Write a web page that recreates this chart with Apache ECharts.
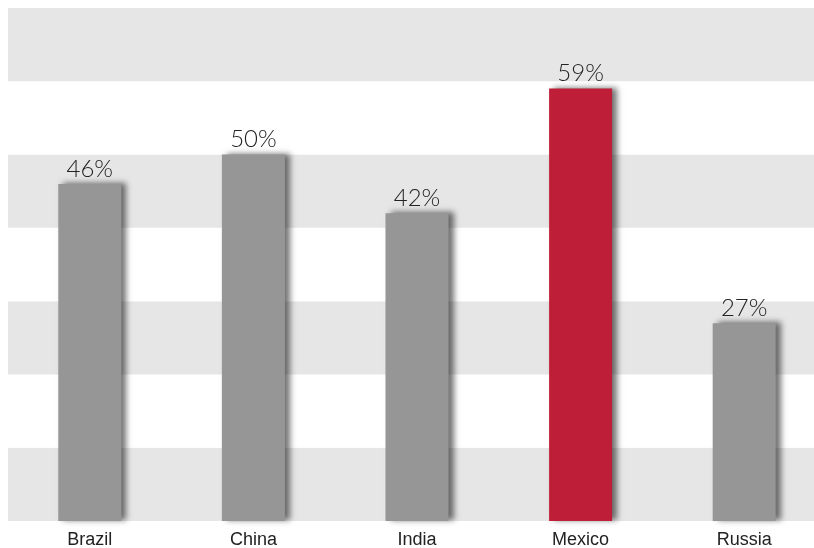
<!DOCTYPE html>
<html>
<head>
<meta charset="utf-8">
<script src="https://cdn.jsdelivr.net/npm/echarts@6/dist/echarts.min.js"></script>
<style>
  html, body { margin: 0; padding: 0; background: #fff; }
  #chart { width: 814px; height: 548px; }
</style>
</head>
<body>
<div id="chart"></div>
<script>
(function () {
  'use strict';
  var countries = ['Brazil', 'China', 'India', 'Mexico', 'Russia'];
  var shares = [46, 50, 42, 59, 27];
  var highlight = 'Mexico';

  var myChart = echarts.init(document.getElementById('chart'));

  var barData = countries.map(function (name, i) {
    return {
      value: shares[i],
      itemStyle: {
        color: name === highlight ? '#be1e37' : '#969696'
      }
    };
  });

  var option = {
    animation: false,
    grid: {
      left: 8,
      top: 8,
      width: 818,
      bottom: 27,
      outerBoundsMode: 'none'
    },
    xAxis: {
      type: 'category',
      data: countries,
      axisLine: { show: false },
      axisTick: { show: false },
      axisLabel: {
        color: '#222',
        fontSize: 18,
        fontFamily: 'Liberation Sans Narrow, Liberation Sans, sans-serif',
        margin: 10
      }
    },
    yAxis: {
      type: 'value',
      min: 0,
      max: 70,
      interval: 10,
      axisLabel: { show: false },
      axisLine: { show: false },
      axisTick: { show: false },
      splitLine: { show: false },
      splitArea: {
        show: true,
        areaStyle: { color: ['#e6e6e6', '#ffffff'] }
      }
    },
    series: [{
      type: 'bar',
      data: barData,
      barWidth: 63,
      itemStyle: {
        shadowColor: 'rgba(0,0,0,0.55)',
        shadowBlur: 6,
        shadowOffsetX: 5,
        shadowOffsetY: -1
      },
      label: {
        show: true,
        position: 'top',
        distance: 3,
        formatter: '{c}%',
        color: '#222',
        fontSize: 24,
        fontWeight: 300,
        fontFamily: 'Lato, Open Sans, sans-serif'
      }
    }]
  };

  myChart.setOption(option);
  window.addEventListener('resize', function () {
    myChart.resize();
  });
})();
</script>
</body>
</html>
